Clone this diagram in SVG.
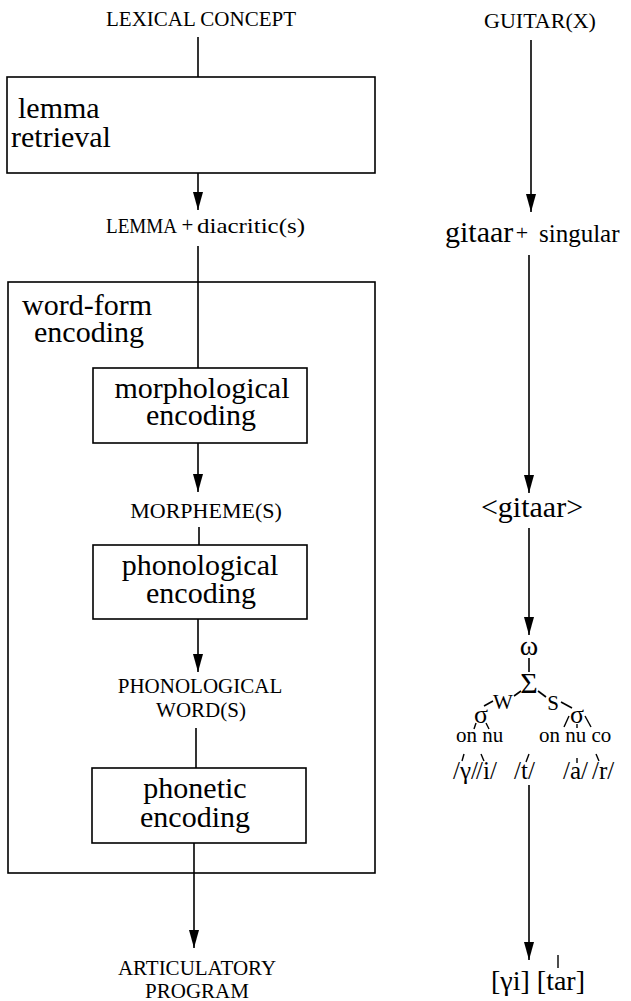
<svg xmlns="http://www.w3.org/2000/svg" width="631" height="1001" viewBox="0 0 631 1001" font-family="'Liberation Serif', 'Times New Roman', serif">
  <style>
    .box { fill: none; stroke: #000; stroke-width: 1.6; }
    .ln { fill: none; stroke: #000; stroke-width: 1.6; }
    .arr { fill: none; stroke: #000; stroke-width: 1.6; marker-end: url(#head); }
    .tk { fill: none; stroke: #000; stroke-width: 1.4; }
    text { font-family: 'Liberation Serif', 'Times New Roman', serif; fill: #000; }
    .big { font-size: 30px; }
    .caps { font-size: 21px; }
    .mid { text-anchor: middle; }
  </style>
  <defs>
    <marker id="head" viewBox="0 0 18 10" refX="18" refY="5" markerWidth="18" markerHeight="10" markerUnits="userSpaceOnUse" orient="auto">
      <path d="M0,0 L18,5 L0,10 z" fill="#000"/>
    </marker>
  </defs>

  <rect width="631" height="1001" fill="#fff"/>

  <!-- processing stages (left column) -->
  <g id="lexical-concept"><text class="caps mid" x="201" y="26">LEXICAL CONCEPT</text></g>

  <g id="lemma-retrieval">
    <rect class="box" x="7" y="77" width="368" height="96"/>
    <text class="big" x="18" y="118">lemma</text>
    <text class="big" x="11" y="147">retrieval</text>
  </g>

  <g id="lemma">
    <text x="106" y="233" font-size="20" textLength="71" lengthAdjust="spacingAndGlyphs">LEMMA</text>
    <text class="mid" x="187.5" y="232" font-size="21">+</text>
    <text x="197" y="233" font-size="22" textLength="108" lengthAdjust="spacingAndGlyphs">diacritic(s)</text>
  </g>

  <g id="word-form-encoding">
    <rect class="box" x="8" y="282" width="367" height="591"/>
    <text class="big mid" x="87" y="315">word-form</text>
    <text class="big mid" x="89" y="342">encoding</text>
  </g>

  <g id="morphological-encoding">
    <rect class="box" x="93" y="368" width="214" height="75"/>
    <text class="big mid" x="202" y="398">morphological</text>
    <text class="big mid" x="201" y="425">encoding</text>
  </g>

  <g id="morphemes"><text class="mid" x="206" y="518" font-size="22">MORPHEME(S)</text></g>

  <g id="phonological-encoding">
    <rect class="box" x="93" y="545" width="214" height="74"/>
    <text class="big mid" x="200" y="575">phonological</text>
    <text class="big mid" x="201" y="603">encoding</text>
  </g>

  <g id="phonological-words">
    <text class="caps mid" x="200" y="693">PHONOLOGICAL</text>
    <text class="caps mid" x="201" y="717">WORD(S)</text>
  </g>

  <g id="phonetic-encoding">
    <rect class="box" x="92" y="768" width="214" height="75"/>
    <text class="big mid" x="195" y="798">phonetic</text>
    <text class="big mid" x="195" y="827">encoding</text>
  </g>

  <g id="articulatory-program">
    <text class="caps mid" x="197" y="975">ARTICULATORY</text>
    <text class="caps mid" x="197" y="998">PROGRAM</text>
  </g>

  <!-- worked example (right column) -->
  <g id="guitar"><text class="mid" x="540" y="28" font-size="22">GUITAR(X)</text></g>

  <g id="gitaar-singular">
    <text class="big" x="445" y="242">gitaar</text>
    <text class="mid" x="522" y="240" font-size="22">+</text>
    <text x="539" y="242" font-size="25">singular</text>
  </g>

  <g id="gitaar-morpheme"><text class="big mid" x="532" y="517">&lt;gitaar&gt;</text></g>

  <g id="syllable-tree">
    <text class="mid" x="529" y="655" font-size="28">ω</text>
    <line class="ln" x1="529" y1="658" x2="529" y2="672"/>
    <text class="mid" x="529" y="693" font-size="30">Σ</text>
    <!-- weak and strong feet -->
    <line class="ln" x1="521" y1="691" x2="514" y2="696"/>
    <line class="ln" x1="493" y1="701" x2="484" y2="706"/>
    <text class="mid" x="503" y="709" font-size="21">W</text>
    <line class="ln" x1="538" y1="691" x2="546" y2="697"/>
    <line class="ln" x1="561" y1="702" x2="572" y2="708"/>
    <text class="mid" x="553" y="710" font-size="21">S</text>
    <!-- syllables -->
    <text class="mid" x="481" y="723" font-size="26">σ</text>
    <line class="tk" x1="476" y1="723" x2="474" y2="729"/>
    <line class="tk" x1="486" y1="723" x2="489" y2="729"/>
    <text class="mid" x="577" y="723" font-size="26">σ</text>
    <line class="tk" x1="569" y1="716" x2="564" y2="727"/>
    <line class="tk" x1="577" y1="724" x2="577" y2="728"/>
    <line class="tk" x1="585" y1="716" x2="591" y2="727"/>
    <text x="456" y="742" font-size="21">on nu</text>
    <text x="539" y="742" font-size="21">on nu co</text>
    <!-- segments -->
    <text x="453" y="779" font-size="25">/γ/</text>
    <text x="476" y="779" font-size="25">/i/</text>
    <text x="514" y="779" font-size="25">/t/</text>
    <text x="563" y="779" font-size="25">/a/</text>
    <text x="592" y="779" font-size="25">/r/</text>
    <line class="tk" x1="464" y1="754" x2="462" y2="761"/>
    <line class="tk" x1="481" y1="754" x2="484" y2="761"/>
    <line class="tk" x1="529" y1="754" x2="526" y2="762"/>
    <line class="tk" x1="577" y1="758" x2="577" y2="763"/>
    <line class="tk" x1="596" y1="754" x2="599" y2="761"/>
  </g>

  <g id="phonetic-form">
    <text x="491" y="990" font-size="28">[γi] [tar]</text>
    <line class="tk" x1="558" y1="955" x2="558" y2="968"/>
  </g>

  <!-- connectors -->
  <g id="connectors">
    <line class="ln" x1="198" y1="37" x2="198" y2="77"/>
    <line class="arr" x1="198" y1="173" x2="198" y2="210"/>
    <line class="ln" x1="198" y1="246" x2="198" y2="368"/>
    <line class="arr" x1="198" y1="443" x2="198" y2="492"/>
    <line class="ln" x1="199" y1="527" x2="199" y2="545"/>
    <line class="arr" x1="198" y1="619" x2="198" y2="672"/>
    <line class="ln" x1="196" y1="728" x2="196" y2="768"/>
    <line class="arr" x1="194" y1="843" x2="194" y2="948"/>

    <line class="arr" x1="531" y1="40" x2="531" y2="212"/>
    <line class="arr" x1="529" y1="255" x2="529" y2="493"/>
    <line class="arr" x1="529" y1="528" x2="529" y2="635"/>
    <line class="arr" x1="529" y1="785" x2="529" y2="960"/>
  </g>
</svg>
